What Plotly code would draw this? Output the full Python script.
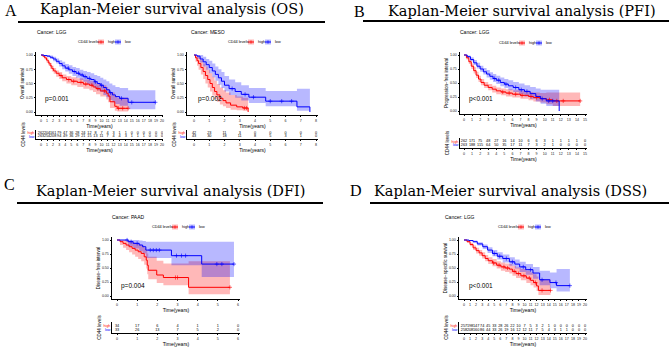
import numpy as np
import plotly.graph_objects as go

W, H = 669, 347
RED, BLUE = "#FF0000", "#0000FF"
RED_FILL, BLUE_FILL = "rgba(255,0,0,0.28)", "rgba(0,0,255,0.28)"
SANS = "Liberation Sans"
SERIF = "DejaVu Serif"

# ---------------- data ----------------
# A: OS, LGG
os_lgg_high_t = [0, 0.3, 0.6, 0.9, 1.2, 1.5, 1.8, 2.1, 2.5, 3.0, 3.5, 4.2, 5.0, 6.0, 7.0, 8.0, 8.6, 9.1, 9.8, 10.8, 11.1, 11.4, 12.2, 12.6, 14.4]
os_lgg_high_s = [1, 0.98, 0.95, 0.91, 0.86, 0.81, 0.76, 0.72, 0.68, 0.64, 0.60, 0.57, 0.54, 0.52, 0.49, 0.47, 0.44, 0.41, 0.37, 0.33, 0.28, 0.18, 0.10, 0.065, 0.065]
os_lgg_high_lo = [1, 0.96, 0.92, 0.87, 0.82, 0.76, 0.71, 0.67, 0.62, 0.58, 0.54, 0.50, 0.47, 0.44, 0.41, 0.38, 0.35, 0.31, 0.27, 0.22, 0.17, 0.07, 0.02, 0.01, 0.01]
os_lgg_high_hi = [1, 1.0, 0.98, 0.95, 0.90, 0.86, 0.81, 0.77, 0.73, 0.70, 0.66, 0.63, 0.61, 0.59, 0.57, 0.55, 0.53, 0.50, 0.47, 0.44, 0.40, 0.34, 0.28, 0.25, 0.25]
os_lgg_high_cens = [3.3, 4.6, 5.4, 6.6, 7.4, 8.4, 9.4, 10.5, 12.8, 13.5, 14.4]
os_lgg_low_t = [0, 0.5, 1.0, 1.5, 2.0, 2.5, 3.0, 3.5, 4.0, 4.6, 5.2, 5.8, 6.4, 7.0, 7.6, 8.2, 8.8, 9.3, 9.8, 10.3, 10.8, 11.3, 11.8, 12.3, 13.0, 14.4, 18.9]
os_lgg_low_s = [1, 0.99, 0.98, 0.96, 0.93, 0.89, 0.85, 0.81, 0.77, 0.74, 0.71, 0.68, 0.65, 0.62, 0.59, 0.57, 0.53, 0.50, 0.47, 0.43, 0.39, 0.34, 0.30, 0.27, 0.24, 0.17, 0.17]
os_lgg_low_lo = [1, 0.98, 0.96, 0.93, 0.89, 0.85, 0.80, 0.75, 0.71, 0.67, 0.63, 0.60, 0.56, 0.53, 0.49, 0.46, 0.42, 0.38, 0.35, 0.30, 0.26, 0.21, 0.17, 0.14, 0.11, 0.05, 0.05]
os_lgg_low_hi = [1, 1.0, 1.0, 0.99, 0.97, 0.94, 0.91, 0.88, 0.84, 0.82, 0.79, 0.77, 0.74, 0.72, 0.70, 0.68, 0.65, 0.63, 0.60, 0.57, 0.54, 0.50, 0.47, 0.44, 0.42, 0.38, 0.38]
os_lgg_low_cens = [4.5, 5.5, 6.2, 6.8, 7.3, 8.0, 9.0, 10.0, 11.5, 13.3, 15.0, 18.9]
os_lgg_risk_high = [262, 204, 161, 79, 47, 36, 28, 24, 12, 8, 7, 4, 3, 1, 1, 0, 0, 0, 0, 0, 0]
os_lgg_risk_low = [263, 254, 208, 94, 49, 36, 29, 21, 15, 13, 11, 7, 4, 4, 3, 1, 1, 1, 0, 0, 0]

# A: OS, MESO
os_meso_high_t = [0, 0.1, 0.2, 0.3, 0.45, 0.6, 0.75, 0.9, 1.05, 1.2, 1.35, 1.5, 1.7, 1.9, 2.1, 2.4, 2.8, 3.2, 3.55]
os_meso_high_s = [1, 0.95, 0.9, 0.85, 0.78, 0.71, 0.64, 0.57, 0.5, 0.43, 0.36, 0.3, 0.24, 0.2, 0.16, 0.12, 0.09, 0.07, 0.0]
os_meso_high_lo = [1, 0.88, 0.81, 0.74, 0.66, 0.58, 0.5, 0.43, 0.36, 0.29, 0.23, 0.18, 0.13, 0.1, 0.07, 0.04, 0.03, 0.02, 0.0]
os_meso_high_hi = [1, 1.0, 0.99, 0.96, 0.91, 0.85, 0.8, 0.74, 0.68, 0.62, 0.55, 0.49, 0.43, 0.38, 0.34, 0.3, 0.27, 0.25, 0.25]
os_meso_high_cens = [3.3, 3.45]
os_meso_low_t = [0, 0.2, 0.4, 0.6, 0.8, 1.0, 1.2, 1.4, 1.6, 1.8, 2.0, 2.3, 2.7, 3.1, 3.6, 4.7, 6.75, 7.6]
os_meso_low_s = [1, 0.98, 0.93, 0.88, 0.83, 0.78, 0.72, 0.66, 0.6, 0.54, 0.47, 0.41, 0.36, 0.31, 0.26, 0.19, 0.09, 0.0]
os_meso_low_lo = [1, 0.94, 0.87, 0.8, 0.74, 0.68, 0.61, 0.55, 0.48, 0.42, 0.36, 0.3, 0.25, 0.2, 0.16, 0.1, 0.02, 0.0]
os_meso_low_hi = [1, 1.0, 1.0, 0.97, 0.93, 0.9, 0.85, 0.8, 0.75, 0.7, 0.63, 0.57, 0.52, 0.47, 0.42, 0.37, 0.41, 0.41]
os_meso_low_cens = [2.5, 3.35, 3.9, 5.0, 5.75, 6.4]
os_meso_risk_high = [42, 23, 11, 3, 0, 0, 0, 0, 0]
os_meso_risk_low = [43, 30, 18, 11, 8, 5, 3, 1, 0]

# B: PFI, LGG
pfi_high_t = [0, 0.3, 0.6, 0.9, 1.2, 1.5, 1.8, 2.1, 2.5, 3.0, 3.5, 4.0, 4.6, 5.2, 6.0, 7.0, 8.0, 8.6, 9.4, 10.2, 11.0, 14.4]
pfi_high_s = [1, 0.95, 0.88, 0.8, 0.72, 0.64, 0.57, 0.51, 0.46, 0.42, 0.39, 0.36, 0.34, 0.32, 0.3, 0.28, 0.26, 0.24, 0.22, 0.2, 0.18, 0.18]
pfi_high_lo = [1, 0.92, 0.84, 0.75, 0.67, 0.59, 0.52, 0.46, 0.41, 0.37, 0.33, 0.3, 0.28, 0.26, 0.24, 0.22, 0.19, 0.17, 0.15, 0.12, 0.09, 0.09]
pfi_high_hi = [1, 0.98, 0.92, 0.85, 0.78, 0.7, 0.63, 0.57, 0.52, 0.48, 0.45, 0.42, 0.4, 0.39, 0.37, 0.36, 0.34, 0.33, 0.32, 0.33, 0.33, 0.33]
pfi_high_cens = [4.8, 5.6, 6.4, 7.2, 8.3, 9.0, 10.6, 11.5, 12.3, 14.4]
pfi_low_t = [0, 0.4, 0.8, 1.2, 1.6, 2.0, 2.4, 2.8, 3.2, 3.6, 4.0, 4.5, 5.0, 5.5, 6.1, 6.8, 7.5, 8.2, 8.9, 9.5, 10.2, 11.8]
pfi_low_s = [1, 0.97, 0.92, 0.86, 0.8, 0.75, 0.7, 0.66, 0.62, 0.58, 0.55, 0.51, 0.48, 0.45, 0.42, 0.38, 0.35, 0.31, 0.26, 0.22, 0.18, 0.0]
pfi_low_lo = [1, 0.95, 0.89, 0.82, 0.76, 0.7, 0.65, 0.6, 0.56, 0.52, 0.48, 0.44, 0.41, 0.37, 0.34, 0.3, 0.26, 0.22, 0.17, 0.13, 0.09, 0.0]
pfi_low_hi = [1, 0.99, 0.96, 0.91, 0.86, 0.81, 0.77, 0.73, 0.69, 0.66, 0.63, 0.6, 0.57, 0.55, 0.52, 0.49, 0.46, 0.43, 0.4, 0.38, 0.38, 0.38]
pfi_low_cens = [3.8, 4.3, 5.2, 6.4, 7.1, 7.8, 9.7, 10.5, 11.0]
pfi_risk_high = [262, 171, 75, 48, 27, 16, 14, 10, 6, 6, 3, 1, 1, 1, 1, 0]
pfi_risk_low = [263, 188, 115, 64, 50, 35, 17, 11, 7, 3, 2, 1, 0, 0, 0, 0]

# C: DFI, PAAD
dfi_high_t = [0, 0.15, 0.3, 0.45, 0.6, 0.75, 0.9, 1.05, 1.2, 1.35, 1.45, 1.5, 1.55, 1.97, 2.3, 3.55, 5.6]
dfi_high_s = [1, 0.97, 0.94, 0.91, 0.88, 0.85, 0.82, 0.79, 0.76, 0.7, 0.64, 0.55, 0.46, 0.375, 0.33, 0.155, 0.155]
dfi_high_lo = [1, 0.91, 0.86, 0.82, 0.78, 0.74, 0.7, 0.66, 0.62, 0.56, 0.49, 0.39, 0.3, 0.23, 0.19, 0.03, 0.03]
dfi_high_hi = [1, 1.0, 1.0, 0.99, 0.98, 0.96, 0.94, 0.92, 0.9, 0.86, 0.82, 0.76, 0.7, 0.63, 0.58, 0.62, 0.62]
dfi_high_cens = [2.9, 3.0, 5.6]
dfi_low_t = [0, 0.55, 0.8, 1.1, 1.27, 1.43, 2.7, 4.2, 5.8]
dfi_low_s = [1, 0.97, 0.94, 0.91, 0.88, 0.82, 0.72, 0.57, 0.57]
dfi_low_lo = [1, 0.89, 0.85, 0.8, 0.76, 0.68, 0.55, 0.34, 0.34]
dfi_low_hi = [1, 1.0, 1.0, 0.99, 0.98, 0.97, 0.97, 0.97, 0.97]
dfi_low_cens = [0.5, 0.7, 1.0, 1.65, 1.8, 1.95, 2.1, 2.95, 3.2, 3.4, 4.95, 5.2, 5.8]
dfi_risk_high = [34, 17, 6, 4, 1, 1, 0]
dfi_risk_low = [33, 26, 13, 7, 5, 2, 0]

# D: DSS, LGG
dss_high_t = [0, 0.5, 1.0, 1.5, 2.0, 2.5, 3.0, 3.5, 4.0, 4.7, 5.4, 6.1, 6.8, 7.5, 8.0, 8.6, 9.4, 10.3, 11.0, 11.5, 12.0, 12.3, 14.3]
dss_high_s = [1, 0.97, 0.92, 0.86, 0.81, 0.77, 0.72, 0.67, 0.63, 0.59, 0.55, 0.52, 0.5, 0.48, 0.44, 0.4, 0.36, 0.32, 0.28, 0.24, 0.18, 0.1, 0.1]
dss_high_lo = [1, 0.95, 0.89, 0.82, 0.76, 0.72, 0.67, 0.62, 0.57, 0.53, 0.49, 0.45, 0.43, 0.4, 0.36, 0.32, 0.28, 0.23, 0.19, 0.15, 0.09, 0.02, 0.02]
dss_high_hi = [1, 0.99, 0.95, 0.9, 0.86, 0.82, 0.78, 0.73, 0.69, 0.66, 0.62, 0.6, 0.58, 0.57, 0.54, 0.51, 0.48, 0.45, 0.42, 0.39, 0.35, 0.3, 0.3]
dss_high_cens = [4.9, 5.8, 6.6, 7.2, 8.3, 9.0, 9.9, 10.8, 11.8, 12.9, 14.3]
dss_low_t = [0, 0.8, 1.5, 2.2, 3.1, 3.9, 4.7, 5.5, 6.4, 7.5, 8.4, 9.2, 10.2, 11.4, 12.5, 14.2, 15.3, 17.5]
dss_low_s = [1, 0.99, 0.97, 0.93, 0.88, 0.82, 0.76, 0.71, 0.67, 0.61, 0.57, 0.52, 0.47, 0.41, 0.29, 0.24, 0.185, 0.185]
dss_low_lo = [1, 0.98, 0.95, 0.9, 0.84, 0.77, 0.71, 0.65, 0.6, 0.54, 0.49, 0.43, 0.38, 0.31, 0.19, 0.14, 0.08, 0.08]
dss_low_hi = [1, 1.0, 0.99, 0.96, 0.92, 0.87, 0.82, 0.78, 0.74, 0.69, 0.65, 0.61, 0.57, 0.52, 0.45, 0.42, 0.48, 0.48]
dss_low_cens = [5.0, 5.9, 7.0, 8.0, 9.8, 11.0, 12.9, 15.2, 17.5]
dss_risk_high = [257, 198, 147, 74, 45, 33, 28, 26, 22, 10, 7, 5, 3, 2, 1, 0, 0, 0, 0, 0, 0]
dss_risk_low = [258, 208, 160, 86, 44, 33, 26, 19, 16, 12, 12, 11, 7, 5, 4, 3, 1, 1, 0, 0, 0]

group_labels = ["high", "low"]
legend_title = "CD44 levels"
time_title = "Time(years)"

# ---------------- layout geometry (pixels) ----------------
panels = [
    dict(cancer="LGG", ytitle="Overall survival", pval="p=0.001", xmax=20,
         L=36, R=163, x0p=41, x1p=162, T=52, B=115, y1p=55, y0p=112,
         rT=130, rB=139, hiP=133, loP=136.5, ylab_x=35, leg_x=76, leg_y=42, cancer_y=32,
         data=(os_lgg_high_t, os_lgg_high_s, os_lgg_high_lo, os_lgg_high_hi, os_lgg_high_cens,
               os_lgg_low_t, os_lgg_low_s, os_lgg_low_lo, os_lgg_low_hi, os_lgg_low_cens,
               os_lgg_risk_high, os_lgg_risk_low), pv=(0.3, 0.23)),
    dict(cancer="MESO", ytitle="Overall survival", pval="p=0.002", xmax=8,
         L=187, R=318, x0p=194, x1p=316, T=52, B=115, y1p=55, y0p=112,
         rT=130, rB=139, hiP=133, loP=136.5, ylab_x=189, leg_x=226, leg_y=42, cancer_y=32,
         data=(os_meso_high_t, os_meso_high_s, os_meso_high_lo, os_meso_high_hi, os_meso_high_cens,
               os_meso_low_t, os_meso_low_s, os_meso_low_lo, os_meso_low_hi, os_meso_low_cens,
               os_meso_risk_high, os_meso_risk_low), pv=(0.15, 0.23)),
    dict(cancer="LGG", ytitle="Progression\u2212free interval", pval="p<0.001", xmax=15,
         L=460, R=587, x0p=464, x1p=585, T=52, B=114, y1p=55, y0p=111,
         rT=138, rB=148, hiP=141.5, loP=145, ylab_x=458, leg_x=497, leg_y=43, cancer_y=32,
         data=(pfi_high_t, pfi_high_s, pfi_high_lo, pfi_high_hi, pfi_high_cens,
               pfi_low_t, pfi_low_s, pfi_low_lo, pfi_low_hi, pfi_low_cens,
               pfi_risk_high, pfi_risk_low), pv=(0.35, 0.21)),
    dict(cancer="PAAD", ytitle="Disease\u2212free interval", pval="p=0.004", xmax=6,
         L=112, R=240, x0p=117, x1p=238, T=237, B=299, y1p=240, y0p=296,
         rT=322, rB=333, hiP=326, loP=330, ylab_x=110, leg_x=150, leg_y=227, cancer_y=217,
         data=(dfi_high_t, dfi_high_s, dfi_high_lo, dfi_high_hi, dfi_high_cens,
               dfi_low_t, dfi_low_s, dfi_low_lo, dfi_low_hi, dfi_low_cens,
               dfi_risk_high, dfi_risk_low), pv=(0.12, 0.18)),
    dict(cancer="LGG", ytitle="Disease\u2212specific survival", pval="p<0.001", xmax=20,
         L=459, R=587, x0p=464, x1p=585, T=237, B=299, y1p=240, y0p=296,
         rT=322, rB=333, hiP=326, loP=330, ylab_x=443, leg_x=496, leg_y=227, cancer_y=217,
         data=(dss_high_t, dss_high_s, dss_high_lo, dss_high_hi, dss_high_cens,
               dss_low_t, dss_low_s, dss_low_lo, dss_low_hi, dss_low_cens,
               dss_risk_high, dss_risk_low), pv=(0.5, 0.18)),
]


def fx(px):
    return px / W


def fy(py):
    return 1 - py / H


def lin(p0, v0, p1, v1, p):
    return v0 + (p - p0) * (v1 - v0) / (p1 - p0)


def step_at(ts, ss, tc):
    i = np.searchsorted(np.asarray(ts), tc, side="right") - 1
    return float(np.asarray(ss)[max(i, 0)])


fig = go.Figure()
layout_axes = {}
annotations = []
shapes = []

axis_common = dict(showline=True, linecolor="black", linewidth=0.8, ticks="outside",
                   ticklen=1.5, tickwidth=0.6, tickcolor="black", showgrid=False,
                   zeroline=False, tickfont=dict(family=SANS, size=3.6, color="#222"))

for k, P in enumerate(panels):
    ia, ib = 2 * k + 1, 2 * k + 2
    xr = [lin(P["x0p"], 0, P["x1p"], P["xmax"], P["L"]), lin(P["x0p"], 0, P["x1p"], P["xmax"], P["R"])]
    yr = [lin(P["y0p"], 0, P["y1p"], 1, P["B"]), lin(P["y0p"], 0, P["y1p"], 1, P["T"])]
    ryr = [lin(P["loP"], 1, P["hiP"], 2, P["rB"]), lin(P["loP"], 1, P["hiP"], 2, P["rT"])]
    ticks_x = list(range(P["xmax"] + 1))
    sa = "" if ia == 1 else str(ia)
    sb = str(ib)
    layout_axes["xaxis" + sa] = dict(axis_common, domain=[fx(P["L"]), fx(P["R"])], range=xr,
                                     anchor="y" + sa, tickvals=ticks_x,
                                     title=dict(text=time_title, font=dict(family=SANS, size=5, color="black"), standoff=1))
    layout_axes["yaxis" + sa] = dict(axis_common, domain=[fy(P["B"]), fy(P["T"])], range=yr,
                                     anchor="x" + sa, tickvals=[0, 0.25, 0.5, 0.75, 1.0],
                                     ticktext=["0.00", "0.25", "0.50", "0.75", "1.00"],
                                     title=dict(text=P["ytitle"], font=dict(family=SANS, size=4.5, color="black"), standoff=1))
    layout_axes["xaxis" + sb] = dict(axis_common, domain=[fx(P["L"]), fx(P["R"])], range=xr,
                                     anchor="y" + sb, tickvals=ticks_x,
                                     title=dict(text=time_title, font=dict(family=SANS, size=5, color="black"), standoff=1))
    layout_axes["yaxis" + sb] = dict(axis_common, domain=[fy(P["rB"]), fy(P["rT"])], range=ryr,
                                     anchor="x" + sb, tickvals=[2, 1], ticks="",
                                     ticktext=['<span style="color:%s">high</span>' % RED,
                                               '<span style="color:%s">low</span>' % BLUE],
                                     title=dict(text=legend_title, font=dict(family=SANS, size=4.5, color="black"), standoff=2))

    (ht, hs, hlo, hhi, hc, lt, ls, llo, lhi, lc, rh, rl) = P["data"]
    xa, ya = "x" + sa, "y" + sa
    for (t, s, lo, hi, cens, col, fill, name) in [
        (ht, hs, hlo, hhi, hc, RED, RED_FILL, group_labels[0]),
        (lt, ls, llo, lhi, lc, BLUE, BLUE_FILL, group_labels[1]),
    ]:
        fig.add_trace(go.Scatter(x=t, y=hi, mode="lines", line=dict(width=0, shape="hv"),
                                 xaxis=xa, yaxis=ya, showlegend=False, hoverinfo="skip"))
        fig.add_trace(go.Scatter(x=t, y=lo, mode="lines", line=dict(width=0, shape="hv"),
                                 fill="tonexty", fillcolor=fill,
                                 xaxis=xa, yaxis=ya, showlegend=False, hoverinfo="skip"))
    for (t, s, cens, col, name) in [
        (ht, hs, hc, RED, group_labels[0]),
        (lt, ls, lc, BLUE, group_labels[1]),
    ]:
        fig.add_trace(go.Scatter(x=t, y=s, mode="lines", line=dict(width=1, color=col, shape="hv"),
                                 xaxis=xa, yaxis=ya, showlegend=False, name=name))
        fig.add_trace(go.Scatter(x=cens, y=[step_at(t, s, c) for c in cens], mode="markers",
                                 marker=dict(symbol="cross-thin", size=3, line=dict(width=0.6, color=col)),
                                 xaxis=xa, yaxis=ya, showlegend=False))
    # risk table
    xb, yb = "x" + sb, "y" + sb
    fig.add_trace(go.Scatter(x=ticks_x, y=[2] * len(rh), mode="text", text=[str(v) for v in rh],
                             textfont=dict(family=SANS, size=3.8, color="black"),
                             xaxis=xb, yaxis=yb, showlegend=False))
    fig.add_trace(go.Scatter(x=ticks_x, y=[1] * len(rl), mode="text", text=[str(v) for v in rl],
                             textfont=dict(family=SANS, size=3.8, color="black"),
                             xaxis=xb, yaxis=yb, showlegend=False))

    # p-value
    annotations.append(dict(x=P["pv"][0], y=P["pv"][1], xref=xa, yref=ya, text=P["pval"],
                            showarrow=False, xanchor="left", yanchor="middle",
                            font=dict(family=SANS, size=6.5, color="black")))
    # cancer subtitle
    annotations.append(dict(x=fx(P["ylab_x"]), y=fy(P["cancer_y"]), xref="paper", yref="paper",
                            text="Cancer: " + P["cancer"], showarrow=False, xanchor="left", yanchor="middle",
                            font=dict(family=SANS, size=5, color="black")))
    # legend (manual)
    lx, ly = P["leg_x"], P["leg_y"]
    annotations.append(dict(x=fx(lx), y=fy(ly), xref="paper", yref="paper", text=legend_title,
                            showarrow=False, xanchor="left", yanchor="middle",
                            font=dict(family=SANS, size=3.8, color="black")))
    for off, col, fill, lab in [(22, RED, RED_FILL, group_labels[0]), (39, BLUE, BLUE_FILL, group_labels[1])]:
        shapes.append(dict(type="rect", xref="paper", yref="paper", x0=fx(lx + off), x1=fx(lx + off + 6),
                           y0=fy(ly + 2.5), y1=fy(ly - 2.5), fillcolor=fill, line=dict(width=0)))
        shapes.append(dict(type="line", xref="paper", yref="paper", x0=fx(lx + off), x1=fx(lx + off + 6),
                           y0=fy(ly), y1=fy(ly), line=dict(color=col, width=1)))
        shapes.append(dict(type="line", xref="paper", yref="paper", x0=fx(lx + off + 3), x1=fx(lx + off + 3),
                           y0=fy(ly + 1.6), y1=fy(ly - 1.6), line=dict(color=col, width=0.7)))
        annotations.append(dict(x=fx(lx + off + 7.5), y=fy(ly), xref="paper", yref="paper", text=lab,
                                showarrow=False, xanchor="left", yanchor="middle",
                                font=dict(family=SANS, size=3.8, color="black")))

# headings: letter (x, top), title (center x, center y), underline (x0, x1, y)
headings = [
    ("A", 3, 0, "Kaplan-Meier survival analysis (OS)", 172, 9, 18, 325, 22),
    ("B", 352, 1, "Kaplan-Meier survival analysis (PFI)", 522, 11, 363, 669, 21),
    ("C", 2, 174, "Kaplan-Meier survival analysis (DFI)", 170, 191, 17, 323, 203),
    ("D", 348, 180, "Kaplan-Meier survival analysis (DSS)", 510, 191, 370, 669, 203),
]
for letter, lxp, lyp, title, tx, ty, ux0, ux1, uy in headings:
    annotations.append(dict(x=fx(lxp), y=fy(lyp), xref="paper", yref="paper", text=letter,
                            showarrow=False, xanchor="left", yanchor="top",
                            font=dict(family="Liberation Serif", size=16, color="black")))
    annotations.append(dict(x=fx(tx), y=fy(ty), xref="paper", yref="paper", text=title,
                            showarrow=False, xanchor="center", yanchor="middle",
                            font=dict(family=SERIF, size=14.5, color="black")))
    shapes.append(dict(type="line", xref="paper", yref="paper", x0=fx(ux0), x1=fx(ux1),
                       y0=fy(uy), y1=fy(uy), line=dict(color="black", width=2)))

fig.update_layout(width=W, height=H, margin=dict(l=0, r=0, t=0, b=0),
                  paper_bgcolor="white", plot_bgcolor="white", showlegend=False,
                  annotations=annotations, shapes=shapes, **layout_axes)
fig.write_html("out.html", config={"displayModeBar": False},
               post_script="document.body.style.margin='0px';document.body.style.overflow='hidden';")
